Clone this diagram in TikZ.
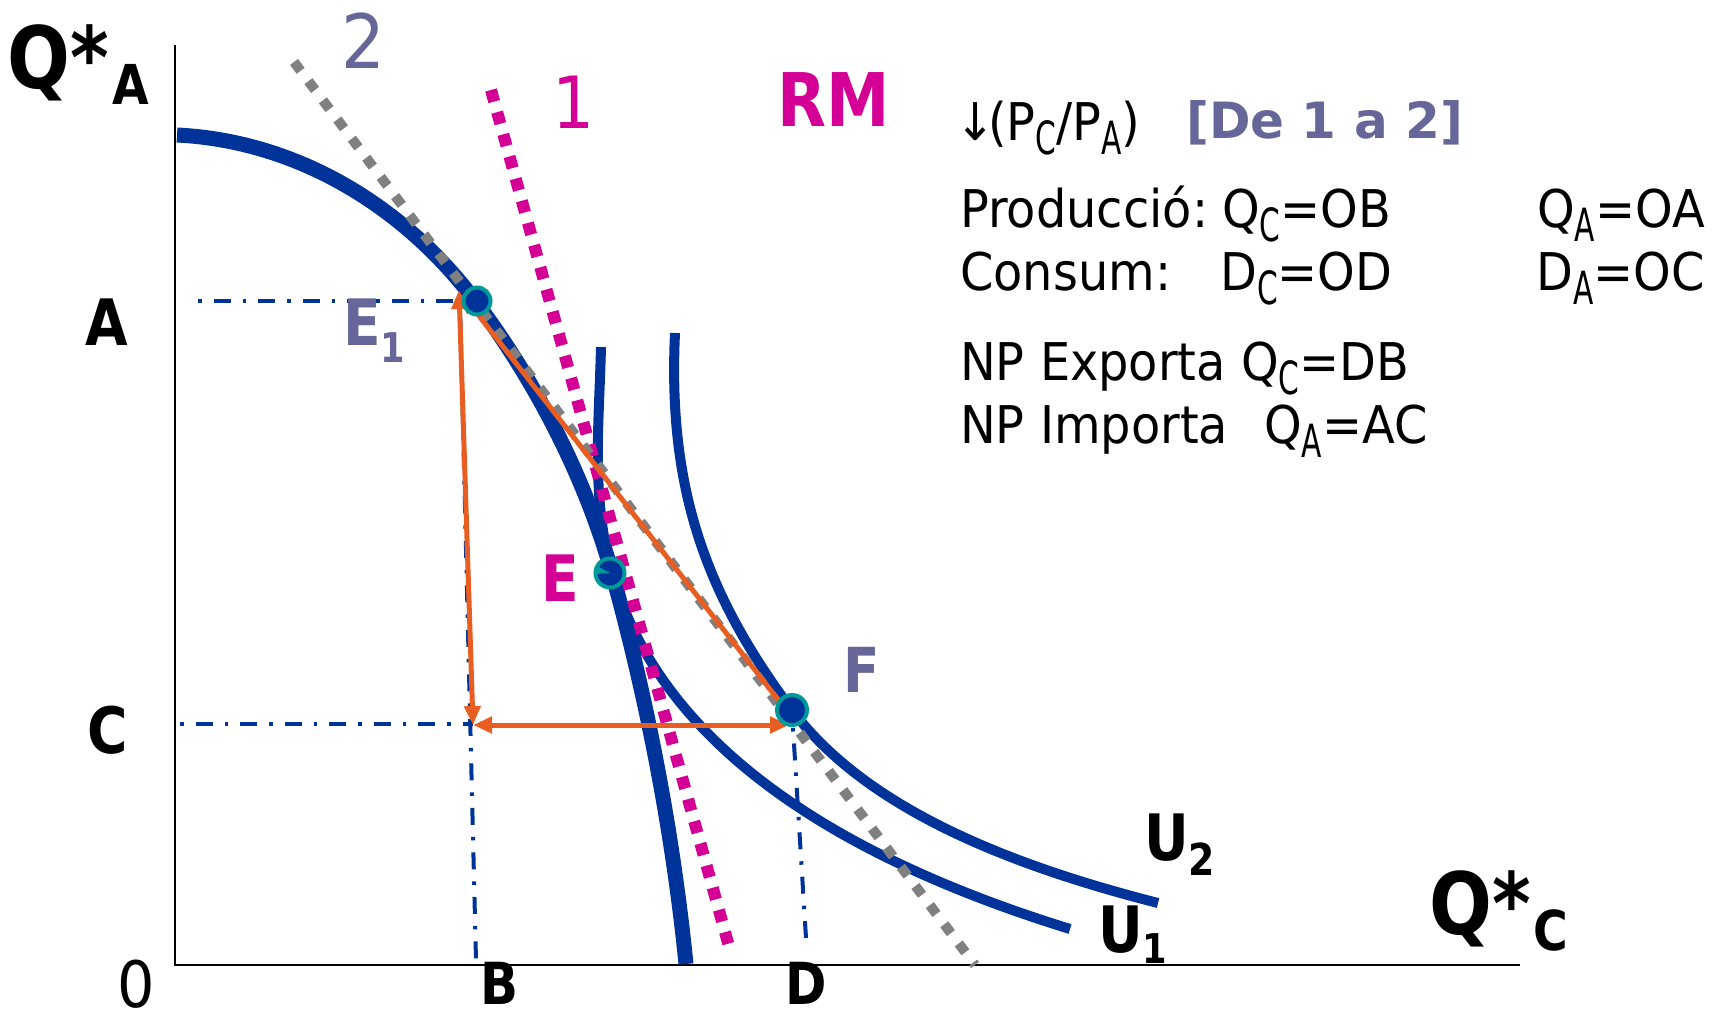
\documentclass[tikz,border=0pt]{standalone}
\usepackage{fontspec}
\usepackage{graphicx}
\usetikzlibrary{arrows.meta}
\setmainfont{DejaVu Sans}
\newfontfamily\rtf[FakeStretch=0.92]{DejaVu Sans}
\newfontfamily\rtbf[FakeStretch=1.0]{DejaVu Sans}
\newfontfamily\lbf[FakeStretch=0.86]{DejaVu Sans}
\definecolor{ppfblue}{RGB}{0,51,153}
\definecolor{slate}{RGB}{102,102,153}
\definecolor{mag}{RGB}{212,0,150}
\definecolor{tealr}{RGB}{0,153,153}
\definecolor{orng}{RGB}{232,94,34}
\definecolor{grayd}{RGB}{128,128,128}
\newcommand\sbs[2][14pt]{\raisebox{-#1}{\scalebox{0.62}[0.88]{#2}}}
\tikzset{
  axisline/.style={line width=2.5pt, black},
  ddot/.style={ppfblue, line width=4pt, dash pattern=on 3.5pt off 12pt on 17pt off 12pt},
  ppf/.style={ppfblue, line width=15pt},
  ucurve/.style={ppfblue, line width=10pt},
  lineone/.style={mag, line width=12pt, dash pattern=on 12pt off 11pt},
  linetwo/.style={grayd, line width=10pt, dash pattern=on 11pt off 13pt},
  orline/.style={orng, line width=5pt},
  tip/.tip={Triangle[length=19pt,width=16pt]},
  dotpt/.style={circle, fill=ppfblue, draw=tealr, line width=4pt, inner sep=0pt},
  rt/.style={inner sep=0pt, font={\rtf\fontsize{52}{60}\selectfont}},
  rtb/.style={inner sep=0pt, text=slate, font={\rtbf\bfseries\fontsize{50}{56}\selectfont}},
  lb/.style={inner sep=0pt, font={\lbf\bfseries\fontsize{64}{70}\selectfont}},
  lr/.style={inner sep=0pt, font={\rtf\fontsize{#1}{#1}\selectfont}},
}
\begin{document}
\begin{tikzpicture}[x=1pt,y=-1pt]
\useasboundingbox[fill=white] (0,0) rectangle (1712,1017);
% axes
\coordinate (ytop) at (175,45);
\coordinate (orig) at (175,965);
\coordinate (xend) at (1520,965);
\draw[axisline] (ytop) -- (orig) -- (xend);
% dash-dot guide lines
\coordinate (aL) at (198,301); \coordinate (aR) at (466,301);
\coordinate (cL) at (180,724); \coordinate (cR) at (473,724);
\coordinate (bT) at (460,303); \coordinate (bB) at (476,960);
\coordinate (dT) at (793,728); \coordinate (dB) at (806,938);
\draw[ddot] (aL) -- (aR);
\draw[ddot] (cL) -- (cR);
\draw[ddot] (bT) -- (bB);
\draw[ddot] (dT) -- (dB);
% PPF
\draw[ppf] (177,135) .. controls (297,141) and (404,206) .. (476,302)
  .. controls (536,382) and (585,477) .. (612,573)
  .. controls (647,698) and (673,834) .. (686,964);
% indifference curves
\draw[ucurve] (601,347) .. controls (599,427) and (591,496) .. (612,573)
  .. controls (666,766) and (879,870) .. (1070,929);
\draw[ucurve] (675,333) .. controls (668,483) and (702,590) .. (792,710)
  .. controls (867,810) and (1013,866) .. (1158,903);
% price lines
\coordinate (m1) at (491,90); \coordinate (m2) at (730,950);
\coordinate (g1) at (294,62); \coordinate (g2) at (975,965);
\draw[lineone] (m1) -- (m2);
\draw[linetwo] (g1) -- (g2);
% trade triangle
\coordinate (corner) at (473,725);
\coordinate (e1tip) at (459,290);
\coordinate (e1tipb) at (462,294);
\coordinate (ftip) at (789,725);
\coordinate (fstart) at (783,706);
\draw[orline, {tip}-{tip}] (corner) -- (e1tip);
\draw[orline, {tip}-{tip}] (corner) -- (ftip);
\draw[orline, -{tip}] (fstart) -- (e1tipb);
% points
\node[dotpt, minimum size=27pt] (E1) at (477,301) {};
\node[dotpt, minimum size=29pt] (E) at (610,573) {};
\fill[tealr] (E.center) -- (597,566) -- (596,574) -- cycle;
\node[dotpt, minimum size=30pt] (F) at (792,710) {};
% axis labels
\node[inner sep=0pt, anchor=base west, font={\lbf\bfseries\fontsize{86}{86}\selectfont}] (QA) at (7,88) {Q*\kern4pt\raisebox{-16pt}{\fontsize{55}{55}\selectfont A}};
\node[inner sep=0pt, anchor=base west, font={\lbf\bfseries\fontsize{86}{86}\selectfont}] (QC) at (1429,934) {Q*\kern3pt\raisebox{-16pt}{\fontsize{55}{55}\selectfont C}};
\node[lb] (lA) at (107,322) {A};
\node[lb] (lC) at (108,730) {C};
\node[lb, font={\lbf\bfseries\fontsize{58}{60}\selectfont}] (lB) at (500,983) {B};
\node[lb, font={\lbf\bfseries\fontsize{58}{60}\selectfont}] (lD) at (806,983) {D};
\node[lr=64] (l0) at (136,984) {0};
\node[lr=75, text=slate] (l2) at (363,41) {2};
\node[lr=72, text=mag] (l1) at (574,102) {1};
\node[lb, text=mag, font={\lbf\bfseries\fontsize{74}{74}\selectfont}] (RM) at (834,100) {RM};
\node[lb, text=mag] (lE) at (560,578) {E};
\node[lb, text=slate, font={\lbf\bfseries\fontsize{62}{62}\selectfont}] (lF) at (862,670) {F};
\node[lb, text=slate, anchor=base west] (lE1) at (343,345) {E\raisebox{-17pt}{\fontsize{41}{41}\selectfont 1}};
\node[lb, anchor=base west] (lU2) at (1144,860) {U\raisebox{-15pt}{\fontsize{44}{44}\selectfont 2}};
\node[lb, anchor=base west] (lU1) at (1098,952) {U\raisebox{-11pt}{\fontsize{41}{41}\selectfont 1}};
% text block
\node[rt, anchor=base west] (t0) at (955,140) {↓\kern-7pt(P\sbs{C}/P\sbs{A})};
\node[rtb, anchor=base west] (t0b) at (1186,138) {[De 1 a 2]};
\node[rt, anchor=base west] (t1) at (960,227) {Producció:};
\node[rt, anchor=base west] (t1b) at (1222,227) {Q\sbs{C}=OB};
\node[rt, anchor=base west] (t1c) at (1537,227) {Q\sbs{A}=OA};
\node[rt, anchor=base west] (t2) at (960,290) {Consum:};
\node[rt, anchor=base west] (t2b) at (1220,290) {D\sbs{C}=OD};
\node[rt, anchor=base west] (t2c) at (1536,290) {D\sbs{A}=OC};
\node[rt, anchor=base west] (t3) at (960,380) {NP Exporta Q\sbs{C}=DB};
\node[rt, anchor=base west] (t4) at (960,443) {NP Importa};
\node[rt, anchor=base west] (t4b) at (1264,443) {Q\sbs{A}=AC};
\end{tikzpicture}
\end{document}
